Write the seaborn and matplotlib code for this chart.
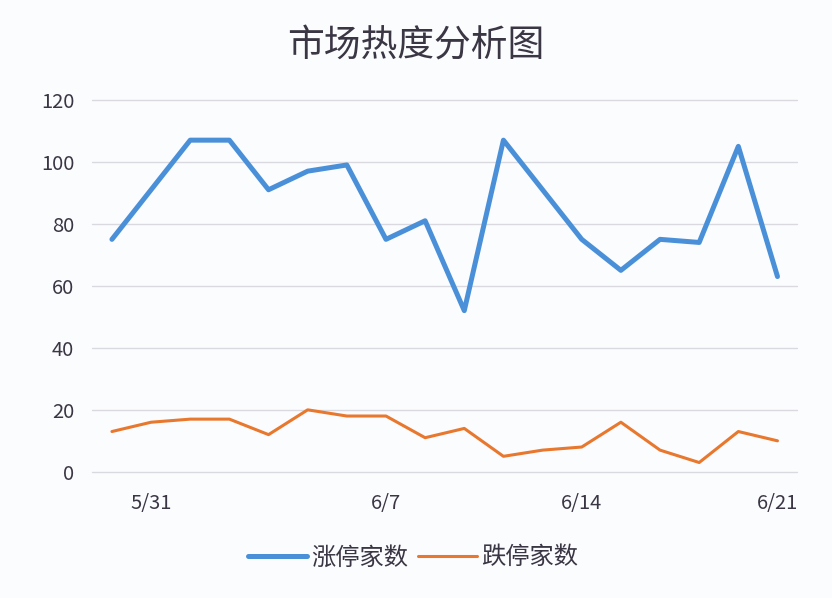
import matplotlib
matplotlib.use("Agg")
import matplotlib.pyplot as plt
import seaborn as sns
import pandas as pd

# trading days shown on the x axis (only some are labelled)
day_labels = ["", "5/31", "", "", "", "", "", "6/7", "", "",
              "", "", "6/14", "", "", "", "", "6/21"]
limit_up = [75, 91, 107, 107, 91, 97, 99, 75, 81, 52,
            107, 91, 75, 65, 75, 74, 105, 63]
limit_down = [13, 16, 17, 17, 12, 20, 18, 18, 11, 14,
              5, 7, 8, 16, 7, 3, 13, 10]
y_ticks = [0, 20, 40, 60, 80, 100, 120]

df = pd.DataFrame({
    "day": list(range(len(day_labels))),
    "涨停家数": limit_up,
    "跌停家数": limit_down,
})

sns.set_theme(style="white")
plt.rcParams["font.family"] = ["Noto Sans CJK SC", "DejaVu Sans"]

bg = "#fbfcfe"
text_color = "#3b3644"

fig = plt.figure(figsize=(8.32, 5.98), dpi=100, facecolor=bg)
ax = fig.add_axes([0.111, 0.211, 0.847, 0.622])
ax.set_facecolor(bg)

sns.lineplot(data=df, x="day", y="涨停家数", ax=ax, color="#4a90d9",
             linewidth=3.6, label="涨停家数")
sns.lineplot(data=df, x="day", y="跌停家数", ax=ax, color="#e8782e",
             linewidth=2.2, label="跌停家数")

ax.set_xlim(-0.5, len(day_labels) - 0.5)
ax.set_ylim(0, 120)
ax.set_yticks(y_ticks)
ax.set_yticklabels([str(v) for v in y_ticks])
tick_pos = [i for i, s in enumerate(day_labels) if s]
ax.set_xticks(tick_pos)
ax.set_xticklabels([day_labels[i] for i in tick_pos])
ax.tick_params(axis="x", length=0, pad=15, labelsize=14.5, labelcolor=text_color)
ax.tick_params(axis="y", length=0, pad=13, labelsize=14.5, labelcolor=text_color)
ax.grid(axis="y", color="#d9d9df", linewidth=1)
for gl in ax.get_ygridlines():
    gl.set_clip_on(False)
ax.set_axisbelow(True)
for s in ax.spines.values():
    s.set_visible(False)
ax.set_xlabel("")
ax.set_ylabel("")

ax.get_legend().remove()
handles, labels = ax.get_legend_handles_labels()
fig.legend(handles, labels, loc="center", bbox_to_anchor=(0.497, 0.068),
           ncol=2, frameon=False, fontsize=17.5, handlelength=2.4,
           handletextpad=0.2, columnspacing=0.4, labelcolor=text_color)

fig.suptitle("市场热度分析图", x=0.5, y=0.955, fontsize=26.5, color=text_color)

fig.savefig("out.png", dpi=100, facecolor=bg)
